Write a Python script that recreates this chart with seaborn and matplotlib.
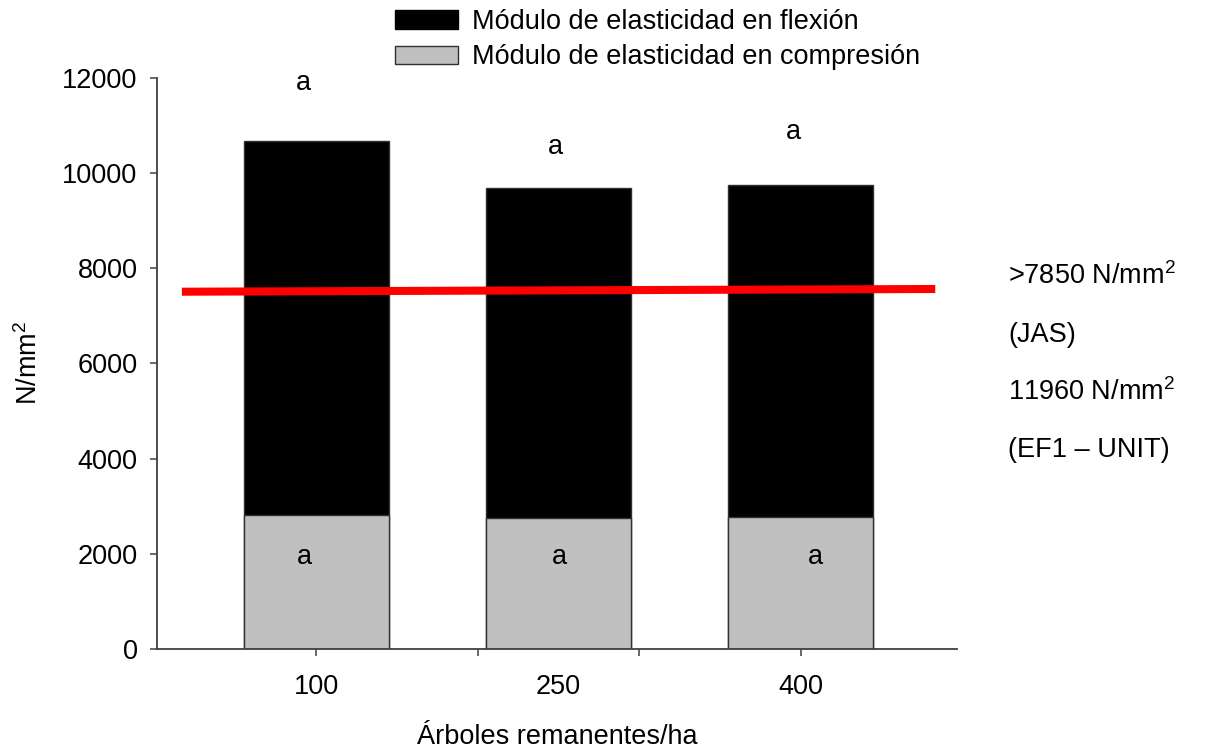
import numpy as np
import matplotlib
matplotlib.use("Agg")
import matplotlib.pyplot as plt
import matplotlib.patches as mpatches
import seaborn as sns

sns.set_theme(style="ticks")
plt.rcParams["font.family"] = ["Liberation Sans", "DejaVu Sans"]
plt.rcParams["mathtext.fontset"] = "custom"
plt.rcParams["mathtext.rm"] = "Liberation Sans"
for k in ["text.color", "axes.labelcolor", "xtick.labelcolor", "ytick.labelcolor"]:
    plt.rcParams[k] = "black"

# data
densidad = ["100", "250", "400"]
mod_flexion = [10680, 9690, 9750]
mod_compresion = [2820, 2750, 2770]

# letters of the mean comparison test
letra_flexion = ["a", "a", "a"]
letra_flexion_x = [-0.055, 0.985, 1.97]
letra_flexion_y = [11880, 10555, 10850]
letra_compresion = ["a", "a", "a"]
letra_compresion_x = [-0.05, 1.005, 2.06]
letra_compresion_y = [1930, 1930, 1930]

# reference line (JAS)
ref_x = [-0.555, 2.555]
ref_y = [7505, 7562]

normas = [r">7850 N/mm$^2$", "(JAS)", r"11960 N/mm$^2$", "(EF1 – UNIT)"]

FS = 19.5
GRIS = "#c0c0c0"
EJE = "#404040"

fig = plt.figure(figsize=(12.11, 7.53), dpi=100)
ax = fig.add_axes([0.1296, 0.1381, 0.6607, 0.7587])

sns.barplot(x=densidad, y=mod_flexion, color="black", saturation=1, width=0.6,
            edgecolor="#303030", linewidth=1, ax=ax)
sns.barplot(x=densidad, y=mod_compresion, color=GRIS, saturation=1, width=0.6,
            edgecolor="#303030", linewidth=1, ax=ax)

ax.plot(ref_x, ref_y, color="red", lw=5.8, solid_capstyle="butt", zorder=5)

for x, y, t in zip(letra_flexion_x, letra_flexion_y, letra_flexion):
    ax.text(x, y, t, ha="center", va="center", fontsize=FS)
for x, y, t in zip(letra_compresion_x, letra_compresion_y, letra_compresion):
    ax.text(x, y, t, ha="center", va="center", fontsize=FS)

ax.set_xlim(-0.658, 2.645)
ax.set_ylim(0, 12000)
ax.set_yticks(np.arange(0, 12001, 2000))
ax.set_yticklabels([str(v) for v in range(0, 12001, 2000)])
ax.set_xticks([0, 1, 2])
ax.set_xticklabels(densidad)
ax.set_xticks([2 / 3, 4 / 3], minor=True)
ax.xaxis.get_major_ticks()[1].tick1line.set_visible(False)

sns.despine(ax=ax)
for s in ["left", "bottom"]:
    ax.spines[s].set_color(EJE)
    ax.spines[s].set_linewidth(1.3)

ax.tick_params(axis="y", length=5, width=1.1, color=EJE, labelsize=FS, pad=9)
ax.tick_params(axis="x", which="major", length=5, width=1.1, color=EJE, labelsize=FS, pad=13)
ax.tick_params(axis="x", which="minor", length=5, width=1.1, color=EJE)

ax.set_ylabel(r"N/mm$^2$", fontsize=FS)
ax.yaxis.set_label_coords(-0.143, 0.5)
ax.set_xlabel("Árboles remanentes/ha", fontsize=FS)
ax.xaxis.set_label_coords(0.5, -0.132)

handles = [
    mpatches.Patch(facecolor="black", edgecolor="black", label="Módulo de elasticidad en flexión"),
    mpatches.Patch(facecolor=GRIS, edgecolor="#303030", label="Módulo de elasticidad en compresión"),
]
fig.legend(handles=handles, loc="upper left", bbox_to_anchor=(395 / 1211, 1 - 9 / 753),
           frameon=False, fontsize=FS, handlelength=2.33, handleheight=0.7,
           handletextpad=0.5, labelspacing=0.35, borderpad=0, borderaxespad=0)

ys = [284, 341.5, 400, 457]
for t, y in zip(normas, ys):
    fig.text(1008 / 1211, 1 - y / 753, t, ha="left", va="baseline", fontsize=FS)

fig.savefig("out.png", dpi=100)
